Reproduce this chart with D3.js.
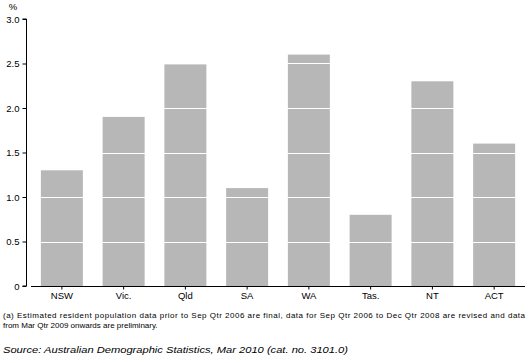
<!DOCTYPE html>
<html>
<head>
<meta charset="utf-8">
<script src="https://cdn.jsdelivr.net/npm/d3@7"></script>
<style>
  body { margin: 0; background: #fff; }
  svg { display: block; font-family: "Liberation Sans", Arial, sans-serif; }
</style>
</head>
<body>
<div id="chart"></div>
<script>
// states and growth rates (%)
const states = ["NSW", "Vic.", "Qld", "SA", "WA", "Tas.", "NT", "ACT"];
const growth = [1.3, 1.9, 2.49, 1.1, 2.6, 0.8, 2.3, 1.6];
const yTicks = [0, 0.5, 1.0, 1.5, 2.0, 2.5, 3.0];
const footnote = [
  "(a) Estimated resident population data prior to Sep Qtr 2006 are final, data for Sep Qtr 2006 to Dec Qtr 2008 are revised and data",
  "from Mar Qtr 2009 onwards are preliminary."
];
const source = "Source: Australian Demographic Statistics, Mar 2010 (cat. no. 3101.0)";

var width = 529, height = 363;

var svg = d3.select("#chart").append("svg")
  .attr("width", width)
  .attr("height", height);

// scales
var x = d3.scaleBand()
  .domain(states)
  .range([31, 525])
  .paddingInner(0.32)
  .paddingOuter(0.16);

var y = d3.scaleLinear()
  .domain([0, 3])
  .range([286, 19]);

// bars
svg.selectAll(".bar")
  .data(states.map((s, i) => ({state: s, value: growth[i]})))
  .enter().append("rect")
  .attr("class", "bar")
  .attr("x", d => x(d.state))
  .attr("width", x.bandwidth())
  .attr("y", d => y(d.value))
  .attr("height", d => y(0) - y(d.value))
  .attr("fill", "#b7b7b7");

// white grid lines cutting across the bars
svg.selectAll(".grid")
  .data(yTicks.filter(t => t > 0))
  .enter().append("line")
  .attr("x1", 27).attr("x2", 525)
  .attr("y1", d => Math.round(y(d)) + 0.5)
  .attr("y2", d => Math.round(y(d)) + 0.5)
  .attr("stroke", "#fff")
  .attr("stroke-width", 1.2);

// y axis
var yAxis = svg.append("g")
  .attr("transform", "translate(26.5,0)")
  .call(d3.axisLeft(y).tickValues(yTicks).tickSize(4).tickPadding(3)
    .tickFormat(d => d === 0 ? "0" : d3.format(".1f")(d)));
yAxis.select(".domain").attr("d", "M0," + y(3) + "V" + y(0) + "H-4M-4," + y(3) + "H0");
yAxis.selectAll("text").attr("font-size", 9.5).attr("fill", "#000")
  .attr("font-family", "Liberation Sans, Arial, sans-serif");

// x axis
var xAxis = svg.append("g")
  .attr("transform", "translate(0," + (y(0) + 0.5) + ")")
  .call(d3.axisBottom(x).tickSize(3).tickPadding(3).tickSizeOuter(0));
xAxis.select(".domain").attr("d", "M31,0H525");
xAxis.selectAll("text").attr("font-size", 9.5).attr("fill", "#000")
  .attr("font-family", "Liberation Sans, Arial, sans-serif");

// unit label
svg.append("text")
  .attr("x", 13).attr("y", 10)
  .attr("font-size", 9.5)
  .attr("text-anchor", "middle")
  .text("%");

// footnotes
svg.selectAll(".fn")
  .data(footnote)
  .enter().append("text")
  .attr("x", 3)
  .attr("y", (d, i) => 318 + i * 10)
  .attr("font-size", 8)
  .attr("textLength", (d, i) => i === 0 ? 522 : null)
  .text(d => d);

svg.append("text")
  .attr("x", 3).attr("y", 353)
  .attr("font-size", 8.5)
  .attr("font-style", "italic")
  .attr("textLength", 345)
  .attr("lengthAdjust", "spacingAndGlyphs")
  .text(source);
</script>
</body>
</html>
